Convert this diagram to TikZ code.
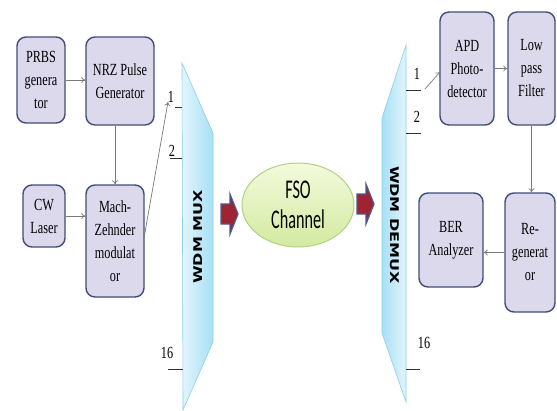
\documentclass[tikz,border=0pt]{standalone}
\usepackage{fontspec}
\usetikzlibrary{arrows.meta,calc,shapes.geometric}
\newfontfamily\boxfont[FakeStretch=0.72]{Liberation Serif}
\newfontfamily\calfont[FakeStretch=0.6]{Carlito}
\newfontfamily\dvfont{DejaVu Sans}
\definecolor{boxfill}{HTML}{DCD9ED}
\definecolor{boxline}{HTML}{3F4E78}
\definecolor{conn}{HTML}{7A7A7A}
\definecolor{muxlight}{HTML}{E2F5FC}
\definecolor{muxdark}{HTML}{A8E0F5}
\definecolor{muxedge}{HTML}{8CCFE8}
\definecolor{ellA}{HTML}{F3FADC}
\definecolor{ellB}{HTML}{D3EAA0}
\definecolor{ellline}{HTML}{AFD287}
\definecolor{barrowfill}{HTML}{9E2433}
\definecolor{barrowline}{HTML}{4A5A90}
\begin{document}
\begin{tikzpicture}[x=1pt,y=-1pt,
  blk/.style={draw=boxline,line width=1.4pt,fill=boxfill,rounded corners=9pt,
    align=center,inner sep=0pt,font=\boxfont\fontsize{17}{23}\selectfont},
  conarrow/.style={draw=conn,line width=0.7pt,-{To[length=4pt,width=6pt]}},
  portline/.style={draw=black!80,line width=0.7pt},
  portlbl/.style={inner sep=0pt,font=\boxfont\fontsize{17}{18}\selectfont},
  barrow/.style={fill=barrowfill,draw=barrowline,line width=1.2pt,line join=miter}]
\useasboundingbox (0,0) rectangle (557,410);

% left blocks
\node[blk,minimum width=48pt,minimum height=86pt] (prbs) at (41,80) {PRBS\\genera\\tor};
\node[blk,minimum width=68pt,minimum height=88pt] (nrz) at (120,81) {NRZ Pulse\\Generator};
\node[blk,minimum width=42pt,minimum height=62pt] (cw) at (44,216) {CW\\Laser};
\node[blk,minimum width=58pt,minimum height=112pt] (mz) at (115,241) {Mach-\\Zehnder\\modulat\\or};

% right blocks
\node[blk,minimum width=54pt,minimum height=113pt] (apd) at (467,68.5) {APD\\Photo-\\detector};
\node[blk,minimum width=47pt,minimum height=113pt] (lpf) at (531.5,68.5) {Low\\pass\\Filter};
\node[blk,minimum width=50pt,minimum height=119pt] (regen) at (530,252.5) {Re-\\generat\\or};
\node[blk,minimum width=64pt,minimum height=94pt] (ber) at (451,240) {BER\\Analyzer};

% WDM MUX
\shade[left color=muxlight,right color=muxdark,draw=muxedge,line width=0.6pt]
  (182,63) -- (213,133) -- (213,342) -- (183,410) -- cycle;
\node[inner sep=0pt] (mux) at (198,237)
  {\scalebox{0.75}[1]{\rotatebox{90}{\dvfont\bfseries\fontsize{16}{18}\selectfont WDM MUX}}};

% WDM DEMUX
\shade[left color=muxdark,right color=muxlight,draw=muxedge,line width=0.6pt]
  (406,45) -- (382,118) -- (382,333) -- (406,402) -- cycle;
\node[inner sep=0pt] (demux) at (395,225)
  {\scalebox{0.75}[1]{\rotatebox{-90}{\dvfont\bfseries\fontsize{16}{18}\selectfont WDM DEMUX}}};

% mux ports
\coordinate (m1a) at (175,107); \coordinate (m1b) at (182,107);
\coordinate (m2a) at (170,158); \coordinate (m2b) at (182,158);
\coordinate (m16a) at (168,369); \coordinate (m16b) at (183,369);
\draw[portline] (m1a) -- (m1b);
\draw[portline] (m2a) -- (m2b);
\draw[portline] (m16a) -- (m16b);
\node[portlbl] (l1) at (171,97) {1};
\node[portlbl] (l2) at (172,151) {2};
\node[portlbl] (l16) at (167,353) {16};

% demux ports
\coordinate (d1a) at (406,90); \coordinate (d1b) at (421,90);
\coordinate (d2a) at (406,133); \coordinate (d2b) at (421,133);
\coordinate (d16a) at (406,369); \coordinate (d16b) at (420,369);
\draw[portline] (d1a) -- (d1b);
\draw[portline] (d2a) -- (d2b);
\draw[portline] (d16a) -- (d16b);
\node[portlbl] (r1) at (417,74) {1};
\node[portlbl] (r2) at (417,117) {2};
\node[portlbl] (r16) at (424,343) {16};

% FSO channel
\node[ellipse,minimum width=112pt,minimum height=84pt,inner sep=0pt,
  top color=ellA,bottom color=ellB,draw=ellline,line width=1pt,align=center,
  font=\calfont\fontsize{27}{30}\selectfont] (fso) at (298,205) {FSO\\Channel};

% block arrows
\draw[barrow] (221,204) -- (230,204) -- (230,194) -- (238,214) -- (230,234) -- (230,224) -- (221,224) -- cycle;
\draw[barrow] (357,194) -- (366,194) -- (366,184) -- (374,204) -- (366,224) -- (366,214) -- (357,214) -- cycle;

% connectors
\draw[conarrow] (prbs.east) -- (prbs.east -| nrz.west);
\draw[conarrow] (mz.north |- nrz.south) -- (mz.north);
\draw[conarrow] (cw.east) -- (cw.east -| mz.west);
\coordinate (mzout) at (144,238);
\coordinate (p1in) at (168,102);
\draw[conarrow] (mzout) -- (p1in);
\draw[conarrow] (apd.east) -- (apd.east -| lpf.west);
\draw[conarrow] (lpf.south) -- (lpf.south |- regen.north);
\draw[conarrow] (regen.west) -- (regen.west -| ber.east);
\coordinate (dout) at (425,89);
\coordinate (apdin) at (440,72);
\draw[conarrow] (dout) -- (apdin);
\end{tikzpicture}
\end{document}
